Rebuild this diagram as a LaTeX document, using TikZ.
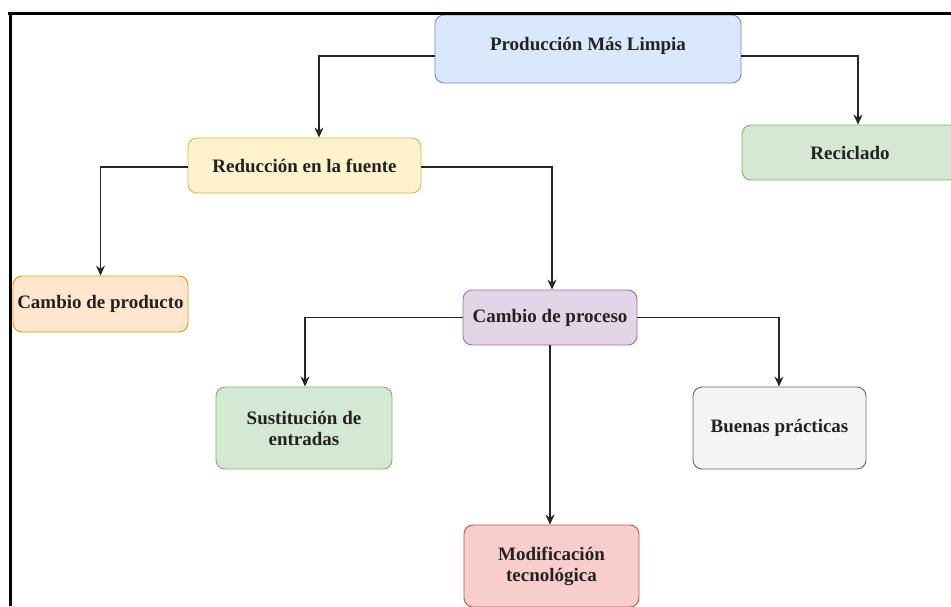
\documentclass[tikz,border=0pt]{standalone}
\usepackage{fontspec}
\setmainfont{Liberation Serif}[BoldFont={Liberation Serif Bold}]
\newfontfamily\boxfont{Liberation Serif Bold}
\usetikzlibrary{arrows.meta}
\definecolor{bluef}{HTML}{DAE8FC}\definecolor{blued}{HTML}{6C8EBF}
\definecolor{yelf}{HTML}{FFF2CC}\definecolor{yeld}{HTML}{D6B656}
\definecolor{grnf}{HTML}{D5E8D4}\definecolor{grnd}{HTML}{82B366}
\definecolor{orgf}{HTML}{FFE6CC}\definecolor{orgd}{HTML}{D79B00}
\definecolor{purf}{HTML}{E1D5E7}\definecolor{purd}{HTML}{9673A6}
\definecolor{gryf}{HTML}{F5F5F5}\definecolor{gryd}{HTML}{666666}
\definecolor{redf}{HTML}{F8CECC}\definecolor{redd}{HTML}{B85450}
\definecolor{txt}{HTML}{222222}
\begin{document}
\begin{tikzpicture}[x=1pt,y=-1pt,
  box/.style={draw, line width=0.9pt, rounded corners=9pt, align=center, inner sep=0pt,
    font=\boxfont\fontsize{19}{21}\selectfont, text=txt},
  conn/.style={line width=1.3pt, draw=black!85, -{Stealth[length=10pt,width=9pt]}}]
\useasboundingbox (0,0) rectangle (951,606);
\clip (0,0) rectangle (951,606);
\node[box, fill=bluef, draw=blued, minimum width=306pt, minimum height=68pt] (prod) at (588,49) {\raisebox{11pt}{Producción Más Limpia}};
\node[box, fill=grnf, draw=grnd, minimum width=216pt, minimum height=55pt] (reci) at (850,152.5) {Reciclado};
\node[box, fill=yelf, draw=yeld, minimum width=233pt, minimum height=55pt] (redu) at (304.5,165.5) {Reducción en la fuente};
\node[box, fill=orgf, draw=orgd, minimum width=175pt, minimum height=56pt] (cprod) at (100.5,304) {Cambio de producto};
\node[box, fill=purf, draw=purd, minimum width=174pt, minimum height=55pt] (cproc) at (550,317.5) {Cambio de proceso};
\node[box, fill=grnf, draw=grnd, minimum width=176pt, minimum height=82pt] (sust) at (304,428) {Sustitución de\\entradas};
\node[box, fill=gryf, draw=gryd, minimum width=173pt, minimum height=82pt] (buen) at (779.5,428) {Buenas prácticas};
\node[box, fill=redf, draw=redd, minimum width=175pt, minimum height=82pt] (modi) at (551.5,566) {Modificación\\tecnológica};
% connectors
\draw[conn] ([yshift=-7pt]prod.west) -| (redu.north -| 319,0);
\draw[conn] ([yshift=-7pt]prod.east) -| (reci.north -| 858,0);
\draw[conn] ([yshift=-1.5pt]redu.west) -| (cprod.north);
\draw[conn] ([yshift=-1.5pt]redu.east) -| (cproc.north -| 552,0);
\draw[conn] (cproc.west) -| (sust.north -| 305,0);
\draw[conn] (cproc.east) -| (buen.north -| 779,0);
\draw[conn] (cproc.south) -- (cproc.south |- modi.north);
% frame
\draw[line width=3pt, black] (8,13.5) -- (951,13.5);
\draw[line width=3pt, black] (10.5,12) -- (10.5,606);
\end{tikzpicture}
\end{document}
